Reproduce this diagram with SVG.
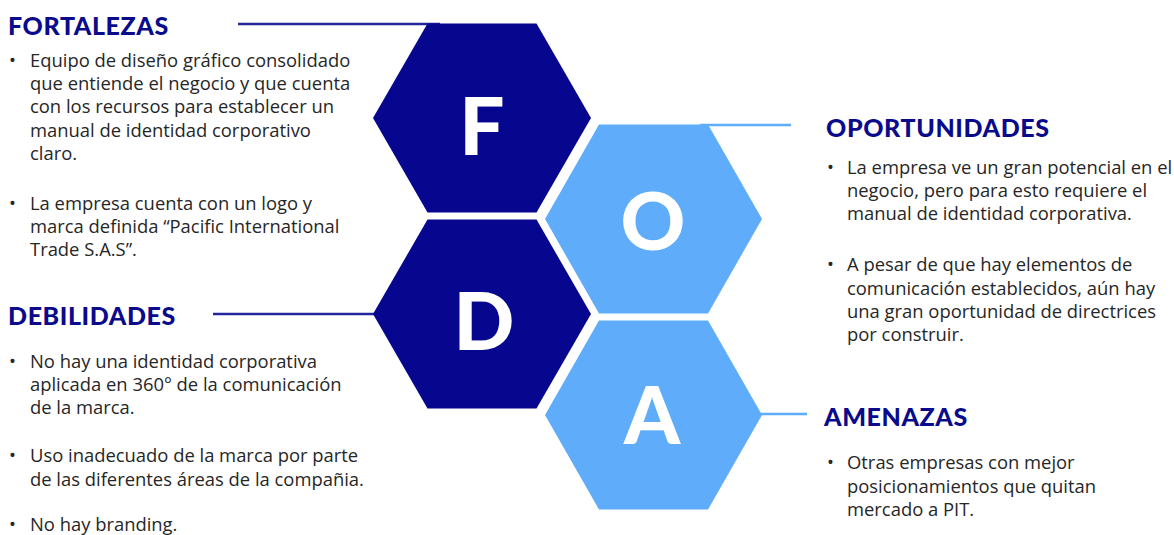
<svg xmlns="http://www.w3.org/2000/svg" width="1174" height="535" viewBox="0 0 1174 535">
  <style>
    .bg { fill: #ffffff; }
    .dark { fill: #06068e; }
    .light { fill: #5eacfa; }
    .letter { font-family: Lato, "Liberation Sans", sans-serif; font-weight: 900; font-size: 80px; fill: #ffffff; text-anchor: middle; }
    .head { font-family: Lato, "Liberation Sans", sans-serif; font-weight: 900; font-size: 25px; fill: #0a0a8c; letter-spacing: 0.6px; }
    .body { font-family: "Open Sans", "Liberation Sans", sans-serif; font-size: 18.4px; fill: #262626; }
    .link-dark { stroke: #24249c; stroke-width: 2.5; fill: none; }
    .link-light { stroke: #5eacfa; stroke-width: 2.5; fill: none; }
  </style>

  <rect class="bg" x="0" y="0" width="1174" height="535"/>

  <!-- leader lines from each heading to its hexagon -->
  <g id="connectors">
    <line class="link-dark" x1="238" y1="24" x2="440" y2="24"/>
    <line class="link-dark" x1="213" y1="314" x2="374" y2="314"/>
    <line class="link-light" x1="700" y1="125" x2="791" y2="125"/>
    <line class="link-light" x1="760" y1="414" x2="807" y2="414"/>
  </g>

  <!-- hexagons -->
  <g id="hex-f">
    <polygon class="dark" points="373,118 427.5,23.5 536.5,23.5 591,118 536.5,212.5 427.5,212.5"/>
    <text class="letter" x="482" y="155">F</text>
  </g>
  <g id="hex-d">
    <polygon class="dark" points="373,314 427.5,219.5 536.5,219.5 591,314 536.5,408.5 427.5,408.5"/>
    <text class="letter" x="484" y="350">D</text>
  </g>
  <g id="hex-o">
    <polygon class="light" points="545,219 599,124.5 708,124.5 762,219 708,313.5 599,313.5"/>
    <text class="letter" x="653" y="250">O</text>
  </g>
  <g id="hex-a">
    <polygon class="light" points="545,415 599,320.5 708,320.5 762,415 708,509.5 599,509.5"/>
    <text class="letter" x="652" y="444">A</text>
  </g>

  <!-- Fortalezas -->
  <g id="fortalezas">
    <text class="head" x="8" y="35">FORTALEZAS</text>
    <g class="body">
      <text x="9" y="67">•</text>
      <text x="30" y="67">Equipo de diseño gráfico consolidado</text>
      <text x="30" y="90">que entiende el negocio y que cuenta</text>
      <text x="30" y="113">con los recursos para establecer un</text>
      <text x="30" y="137">manual de identidad corporativo</text>
      <text x="30" y="160">claro.</text>
      <text x="9" y="210">•</text>
      <text x="30" y="210">La empresa cuenta con un logo y</text>
      <text x="30" y="233">marca definida “Pacific International</text>
      <text x="30" y="256">Trade S.A.S”.</text>
    </g>
  </g>

  <!-- Debilidades -->
  <g id="debilidades">
    <text class="head" x="8" y="325">DEBILIDADES</text>
    <g class="body">
      <text x="9" y="368">•</text>
      <text x="30" y="368">No hay una identidad corporativa</text>
      <text x="30" y="391">aplicada en 360° de la comunicación</text>
      <text x="30" y="414">de la marca.</text>
      <text x="9" y="462">•</text>
      <text x="30" y="462">Uso inadecuado de la marca por parte</text>
      <text x="30" y="486">de las diferentes áreas de la compañia.</text>
      <text x="9" y="531">•</text>
      <text x="30" y="531">No hay branding.</text>
    </g>
  </g>

  <!-- Oportunidades -->
  <g id="oportunidades">
    <text class="head" x="826" y="137">OPORTUNIDADES</text>
    <g class="body">
      <text x="827" y="174">•</text>
      <text x="847" y="174">La empresa ve un gran potencial en el</text>
      <text x="847" y="197">negocio, pero para esto requiere el</text>
      <text x="847" y="220">manual de identidad corporativa.</text>
      <text x="827" y="271">•</text>
      <text x="847" y="271">A pesar de que hay elementos de</text>
      <text x="847" y="295">comunicación establecidos, aún hay</text>
      <text x="847" y="318">una gran oportunidad de directrices</text>
      <text x="847" y="341">por construir.</text>
    </g>
  </g>

  <!-- Amenazas -->
  <g id="amenazas">
    <text class="head" x="824" y="426">AMENAZAS</text>
    <g class="body">
      <text x="827" y="469">•</text>
      <text x="847" y="469">Otras empresas con mejor</text>
      <text x="847" y="493">posicionamientos que quitan</text>
      <text x="847" y="516">mercado a PIT.</text>
    </g>
  </g>
</svg>
